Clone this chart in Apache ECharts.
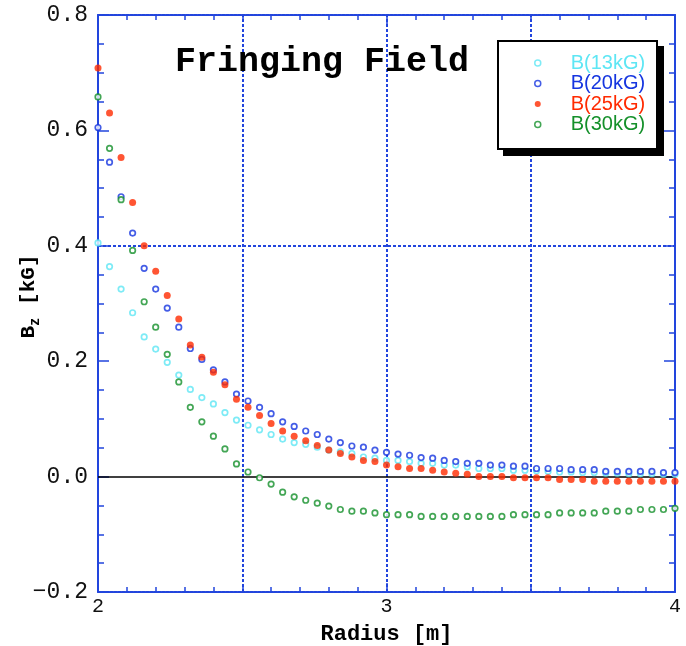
<!DOCTYPE html>
<html>
<head>
<meta charset="utf-8">
<script src="https://cdn.jsdelivr.net/npm/echarts@6/dist/echarts.min.js"></script>
<style>html,body{margin:0;padding:0;background:#fff}#c{width:686px;height:646px}</style>
</head>
<body>
<div id="c"></div>
<script>
// Radius [m]
var radius = [2.00,2.04,2.08,2.12,2.16,2.20,2.24,2.28,2.32,2.36,2.40,2.44,2.48,2.52,2.56,2.60,2.64,2.68,2.72,2.76,2.80,2.84,2.88,2.92,2.96,3.00,3.04,3.08,3.12,3.16,3.20,3.24,3.28,3.32,3.36,3.40,3.44,3.48,3.52,3.56,3.60,3.64,3.68,3.72,3.76,3.80,3.84,3.88,3.92,3.96,4.00];
// Bz [kG]
var b13 = [0.405,0.364,0.325,0.284,0.242,0.221,0.198,0.176,0.151,0.137,0.126,0.111,0.098,
  0.089,0.081,0.073,0.065,0.059,0.056,0.051,0.046,0.043,0.040,0.034,0.032,0.028,0.028,0.026,0.023,
  0.023,0.020,0.020,0.017,0.014,0.014,0.014,0.011,0.011,0.010,0.009,0.008,0.008,0.007,0.007,0.006,0.006,0.005,0.005,0.005,0.004,0.004];
var b20 = [0.605,0.545,0.485,0.422,0.361,0.325,0.292,0.259,0.222,0.203,0.185,0.164,0.143,
  0.131,0.120,0.109,0.095,0.087,0.079,0.073,0.065,0.059,0.053,0.051,0.046,0.042,0.039,0.037,0.033,
  0.032,0.028,0.026,0.023,0.023,0.020,0.020,0.018,0.018,0.014,0.014,0.014,0.012,0.012,0.012,0.009,0.009,0.009,0.009,0.009,0.007,0.007];
var b25 = [0.708,0.630,0.553,0.475,0.400,0.356,0.314,0.273,0.228,0.207,0.181,0.159,0.134,
  0.120,0.106,0.092,0.079,0.070,0.062,0.054,0.046,0.040,0.034,0.028,0.026,0.020,0.017,0.014,0.014,
  0.011,0.008,0.006,0.004,0.000,0.000,0.000,-0.002,-0.002,-0.002,-0.002,-0.005,-0.005,-0.005,-0.008,-0.008,-0.008,-0.008,-0.008,-0.008,-0.008,-0.008];
var b30 = [0.658,0.569,0.480,0.392,0.303,0.259,0.212,0.164,0.120,0.095,0.070,0.048,0.022,
  0.008,-0.002,-0.013,-0.027,-0.035,-0.041,-0.046,-0.051,-0.057,-0.060,-0.060,-0.063,-0.066,-0.066,-0.066,-0.069,
  -0.069,-0.069,-0.069,-0.069,-0.069,-0.069,-0.069,-0.066,-0.066,-0.066,-0.066,-0.063,-0.063,-0.063,-0.063,-0.060,-0.060,-0.060,-0.057,-0.057,-0.057,-0.055];
var seriesNames = ['B(13kG)','B(20kG)','B(25kG)','B(30kG)'];
var xGrid = [2.5, 3, 3.5];
var yGrid = [0.4];

var colors = ['#5ee6f4','#1535e0','#ff2a00','#14902a'];
var axisBlue = '#2245dd';
var mono = '"Liberation Mono","DejaVu Sans Mono",monospace';

function pairs(ys){ return radius.map(function(r,i){ return [r, ys[i]]; }); }

var chart = echarts.init(document.getElementById('c'), null, {renderer:'canvas'});

var gridLines = [];
xGrid.forEach(function(x){ gridLines.push({xAxis:x, lineStyle:{color:axisBlue, width:2, type:[3,2]}}); });
yGrid.forEach(function(y){ gridLines.push({yAxis:y, lineStyle:{color:axisBlue, width:2, type:[3,2]}}); });
gridLines.push({yAxis:0, lineStyle:{color:'#000', width:1.5, type:'solid'}});

function mkSeries(idx, data, filled){
  return {
    name: seriesNames[idx], type:'scatter', data: pairs(data),
    symbol: 'circle', symbolSize: filled ? 7 : 5.5,
    itemStyle: filled ? {color: colors[idx]} : {color:'#fff', borderColor: colors[idx], borderWidth:1.7},
    z: 3 + idx
  };
}

var series = [mkSeries(0,b13,false), mkSeries(1,b20,false), mkSeries(2,b25,true), mkSeries(3,b30,false)];
series[0].markLine = {silent:true, symbol:'none', label:{show:false}, animation:false, z:1, data: gridLines};

var yFmt = function(v){ return (v < 0 ? '\u2212' : '') + Math.abs(v).toFixed(1); };

chart.setOption({
  animation:false,
  backgroundColor:'#fff',
  title:{
    text:'Fringing Field', left:170, top:40,
    textStyle:{fontFamily:mono, fontWeight:'bold', fontSize:35, color:'#000'}
  },
  graphic:[
    {type:'rect', shape:{x:503, y:46, width:161, height:110}, style:{fill:'#000'}, z:5, silent:true},
    {type:'rect', shape:{x:498, y:41, width:159, height:108}, style:{fill:'#fff', stroke:'#000', lineWidth:2}, z:6, silent:true}
  ],
  legend:{
    orient:'vertical', left:497, top:40, z:10,
    padding:[13,14,13,37], itemGap:0.5,
    itemWidth:56, itemHeight:6,
    backgroundColor:'transparent', borderWidth:0,
    textStyle:{fontFamily:'"Liberation Sans",Arial,sans-serif', fontSize:20},
    data: seriesNames.map(function(n,i){
      return {name:n, icon:'circle', textStyle:{color:colors[i]},
        itemStyle: i===2 ? {color:colors[i], borderWidth:0} : {color:'#fff', borderColor:colors[i], borderWidth:1.5}};
    })
  },
  grid:{left:98, right:11, top:15, bottom:54, containLabel:false, outerBoundsMode:'none'},
  xAxis:[{
    type:'value', min:2, max:4, interval:1, position:'bottom',
    axisLine:{onZero:false, lineStyle:{color:axisBlue, width:2, type:[3,1]}},
    axisTick:{show:true, inside:true, length:9, lineStyle:{color:axisBlue, width:1.5}},
    minorTick:{show:true, splitNumber:10, length:5, lineStyle:{color:axisBlue, width:1.5}},
    splitLine:{show:false},
    axisLabel:{fontFamily:mono, fontSize:20, color:'#111', margin:5},
    name:'Radius [m]', nameLocation:'middle', nameGap:31, nameMoveOverlap:false,
    nameTextStyle:{fontFamily:mono, fontWeight:'bold', fontSize:22, color:'#000', verticalAlign:'top'}
  },{
    type:'value', min:2, max:4, interval:1, position:'top',
    axisLine:{onZero:false, lineStyle:{color:axisBlue, width:2, type:[3,1]}},
    axisTick:{show:true, inside:true, length:9, lineStyle:{color:axisBlue, width:1.5}},
    minorTick:{show:true, splitNumber:10, length:5, lineStyle:{color:axisBlue, width:1.5}},
    splitLine:{show:false}, axisLabel:{show:false}
  }],
  yAxis:[{
    type:'value', min:-0.2, max:0.8, interval:0.2, position:'left',
    axisLine:{onZero:false, lineStyle:{color:axisBlue, width:2}},
    axisTick:{show:true, inside:true, length:11, lineStyle:{color:axisBlue, width:1.5}},
    minorTick:{show:true, splitNumber:4, length:6, lineStyle:{color:axisBlue, width:1.5}},
    splitLine:{show:false},
    axisLabel:{fontFamily:mono, fontSize:23, color:'#111', margin:10, formatter:yFmt},
    name:'{b|B}{s|z}{b| [kG]}', nameLocation:'middle', nameGap:56, nameRotate:90, nameMoveOverlap:false,
    nameTextStyle:{padding:[0,0,0,14], rich:{
      b:{fontFamily:mono, fontWeight:'bold', fontSize:21, color:'#000', lineHeight:26, verticalAlign:'middle'},
      s:{fontFamily:mono, fontWeight:'bold', fontSize:14, color:'#000', lineHeight:26, verticalAlign:'bottom', padding:[9,0,0,0]}
    }}
  },{
    type:'value', min:-0.2, max:0.8, interval:0.2, position:'right',
    axisLine:{onZero:false, lineStyle:{color:axisBlue, width:2}},
    axisTick:{show:true, inside:true, length:11, lineStyle:{color:axisBlue, width:1.5}},
    minorTick:{show:true, splitNumber:4, length:6, lineStyle:{color:axisBlue, width:1.5}},
    splitLine:{show:false}, axisLabel:{show:false}
  }],
  series: series
});
</script>
</body>
</html>
